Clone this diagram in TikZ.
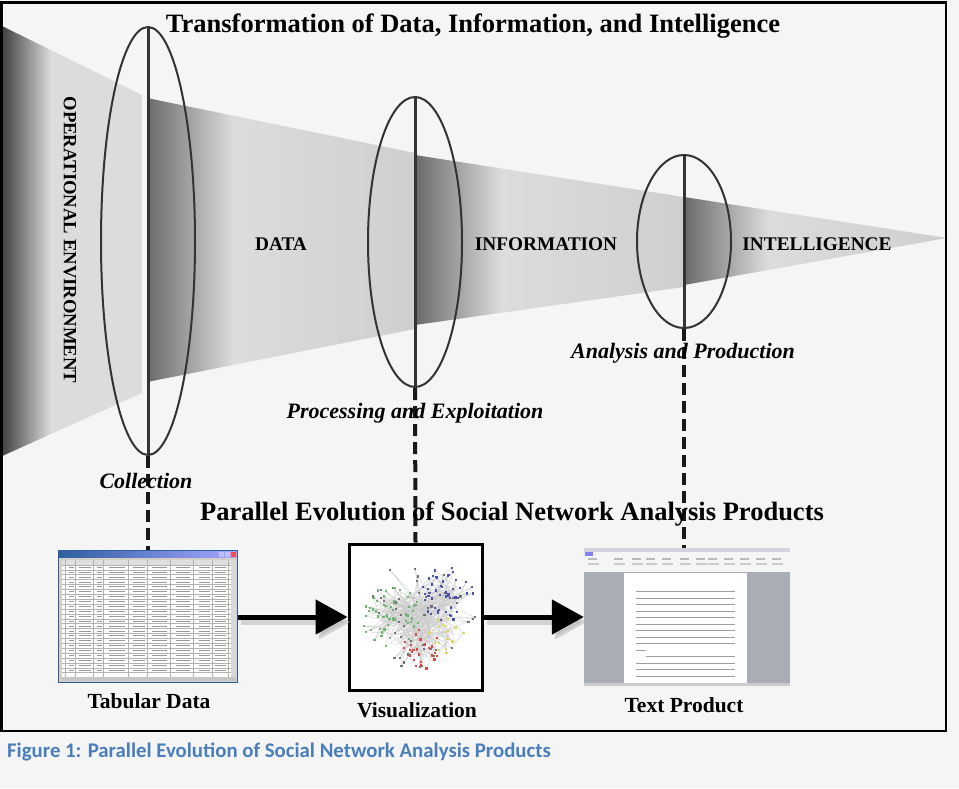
\documentclass[tikz,border=0pt]{standalone}
\usepackage{fontspec}
\setmainfont{Liberation Serif}
\newfontfamily\capfont{Carlito}
\usetikzlibrary{arrows.meta,shapes.geometric,positioning}
\definecolor{paper}{HTML}{F5F5F5}
\definecolor{wdark}{HTML}{3A3A3A}
\definecolor{sdark}{HTML}{6A6A6A}
\definecolor{slight}{HTML}{DCDCDC}
\definecolor{slight2}{HTML}{CFCFCF}
\definecolor{capblue}{HTML}{4A7EBB}
\definecolor{winblue}{HTML}{2D5F9E}
\definecolor{wingray}{HTML}{D4D0C8}
\definecolor{wordgray}{HTML}{A9AEB6}
\definecolor{netgreen}{HTML}{6FB56F}
\definecolor{netblue}{HTML}{4A55A8}
\definecolor{netred}{HTML}{E04848}
\definecolor{netyellow}{HTML}{DDD85A}
\definecolor{netgray}{HTML}{707478}
\pgfdeclarehorizontalshading{opfade}{100bp}{color(0bp)=(wdark); color(25bp)=(wdark); color(43bp)=(slight); color(100bp)=(slight)}
\pgfdeclarehorizontalshading{stagefade}{100bp}{color(0bp)=(sdark); color(25bp)=(sdark); color(41bp)=(slight); color(75bp)=(slight2); color(100bp)=(slight2)}

\begin{document}
\begin{tikzpicture}[x=1pt,y=-1pt,
    every node/.style={inner sep=0pt},
    phase/.style={ellipse, draw=black!80, line width=2pt, minimum width=94pt},
    stage/.style={font=\bfseries\fontsize{19.3}{21}\selectfont},
    steplbl/.style={font=\bfseries\itshape\fontsize{22}{24}\selectfont, anchor=base},
    head/.style={font=\bfseries\fontsize{26.5}{28}\selectfont, anchor=base},
    prod/.style={font=\bfseries\fontsize{21.5}{23}\selectfont, anchor=base},
    feed/.style={black!90, line width=4pt, dash pattern=on 12pt off 6pt},
    flow/.style={line width=5pt, -{Triangle[length=32pt,width=34pt]}},
    flowshade/.style={flow, black!30, opacity=.5}]
    \useasboundingbox (0,0) rectangle (959,788);
    \fill[paper] (0,0) rectangle (959,788);

    % funnel
    \shade[shading=opfade] (0,25) -- (142,95) -- (142,393) -- (0,457) -- cycle;
    \shade[shading=stagefade] (147,98) -- (415,153) -- (415,329) -- (147,382) -- cycle;
    \shade[shading=stagefade] (415,155) -- (684,197) -- (684,287) -- (415,325) -- cycle;
    \shade[shading=stagefade] (684,197) -- (947,238) -- (684,285) -- cycle;

    % the three steps
    \node[phase, minimum height=428pt] (C) at (148,241) {};
    \node[phase, minimum height=290pt] (P) at (415,242) {};
    \node[phase, minimum height=173pt] (A) at (684,241.5) {};
    \foreach \e in {C,P,A} {
      \draw[black!80, line width=3pt] (\e.north) -- (\e.south);
    }

    % products
    \node[minimum width=179pt, minimum height=132pt] (T) at (148.5,617) {};
    \node[draw, fill=white, line width=3pt, minimum width=133pt, minimum height=146pt] (V) at (415.5,617) {};
    \node[minimum width=206pt, minimum height=138pt] (W) at (687,617) {};

    \draw[feed] (C.south) -- (C.south |- T.north);
    \draw[feed] (P.south) -- (V.north);
    \draw[feed] (A.south) -- (A.south |- W.north);

    % tabular data window
    \begin{scope}[shift={(T.north west)}]
      \fill[wingray] (0,0) rectangle (179,132);
      \shade[left color=winblue, right color=blue!35] (0,0) rectangle (179,7);
      \foreach \b in {160,166} \fill[blue!25] (\b,1) rectangle ++(5,5);
      \fill[red!70] (172,1) rectangle ++(5,5);
      \fill[white] (3,9) rectangle (172,126);
      \fill[gray!25] (3,9) rectangle (172,14);
      \foreach \r in {0,...,22} \draw[gray!60, line width=.3pt] (3,14+4.9*\r) -- (172,14+4.9*\r);
      \foreach \c in {6,16,34,44,69,88,111,134,153,169} \draw[gray!60, line width=.3pt] (\c,9) -- (\c,126);
      \foreach \r in {0,...,21} {
        \foreach \a/\b in {10/15,20/32,38/43,50/66,74/86,93/108,117/131,140/151,156/167} {
          \draw[gray!80, line width=1pt] (\a,16.5+4.9*\r) -- (\b,16.5+4.9*\r);
        }
      }
      \fill[gray!30] (172,9) rectangle (177,126);
      \fill[gray!45] (3,126) rectangle (177,130);
      \draw[winblue, line width=.8pt] (0,0) rectangle (179,132);
    \end{scope}

    % network picture
    \begin{scope}[shift={(V.center)}]
      \pgfmathsetseed{11}
      \foreach \cx/\cy/\rr/\n/\c in {5/0/58/45/netgray, -24/0/30/55/netgreen, 33/-22/28/50/netblue, 6/33/20/26/netred, 30/18/22/18/netyellow} {
        \foreach \k in {1,...,\n} {
          \pgfmathsetmacro\ang{360*rnd}
          \pgfmathsetmacro\rad{\rr*sqrt(rnd)}
          \pgfmathsetmacro\px{\cx+\rad*cos(\ang)}
          \pgfmathsetmacro\py{\cy+\rad*sin(\ang)}
          \pgfmathsetmacro\qx{\cx+10*rand}
          \pgfmathsetmacro\qy{\cy+10*rand}
          \pgfmathsetmacro\sx{5+28*rand}
          \pgfmathsetmacro\sy{28*rand}
          \draw[gray!40, line width=.35pt] (\qx,\qy) -- (\px,\py) -- (\sx,\sy);
        }
      }
      \pgfmathsetseed{11}
      \foreach \cx/\cy/\rr/\n/\c in {5/0/58/45/netgray, -24/0/30/55/netgreen, 33/-22/28/50/netblue, 6/33/20/26/netred, 30/18/22/18/netyellow} {
        \foreach \k in {1,...,\n} {
          \pgfmathsetmacro\ang{360*rnd}
          \pgfmathsetmacro\rad{\rr*sqrt(rnd)}
          \pgfmathsetmacro\px{\cx+\rad*cos(\ang)}
          \pgfmathsetmacro\py{\cy+\rad*sin(\ang)}
          \pgfmathsetmacro\qx{\cx+10*rand}
          \pgfmathsetmacro\qy{\cy+10*rand}
          \pgfmathsetmacro\sx{5+28*rand}
          \pgfmathsetmacro\sy{28*rand}
          \fill[\c] (\px-1.1,\py-1.1) rectangle ++(2.2,2.2);
        }
      }
    \end{scope}

    % text product window
    \begin{scope}[shift={(W.north west)}]
      \fill[wordgray] (0,0) rectangle (206,138);
      \fill[blue!15!gray!30] (0,0) rectangle (206,4);
      \fill[gray!8] (0,4) rectangle (206,24);
      \fill[blue!50] (1,4) rectangle ++(8,4);
      \foreach \x in {4,30,48,62,78,96,112,124,140,156,172,188} {
        \fill[gray!55] (\x,10) rectangle ++(9,2);
        \fill[gray!40] (\x,15) rectangle ++(11,2);
      }
      \fill[white] (40,25) rectangle (163,136);
      \foreach \k in {0,...,8} \draw[gray!75, line width=.9pt] (52,44+6.5*\k) -- (151,44+6.5*\k);
      \draw[gray!75, line width=.9pt] (52,102.5) -- (62,102.5);
      \draw[gray!75, line width=.9pt] (62,109) -- (151,109);
      \foreach \k in {1,...,3} \draw[gray!75, line width=.9pt] (52,109+6.5*\k) -- (151,109+6.5*\k);
      \fill[gray!40] (0,135) rectangle (206,138);
    \end{scope}

    % flow between products
    \draw[flowshade] ([shift={(3,5)}]T.east) -- ([shift={(3,5)}]V.west);
    \draw[flowshade] ([shift={(3,5)}]V.east) -- ([shift={(3,5)}]W.west);
    \draw[flow] (T.east) -- (V.west);
    \draw[flow] (V.east) -- (W.west);

    % labels
    \node[head] (t1) at (473,32) {Transformation of Data, Information, and Intelligence};
    \node[head] (t2) at (512,520) {Parallel Evolution of Social Network Analysis Products};
    \node[stage, font=\bfseries\fontsize{18.7}{20}\selectfont, rotate=-90] (oe) at (70,240) {OPERATIONAL ENVIRONMENT};
    \node[stage, anchor=base] (d) at (281,250) {DATA};
    \node[stage, anchor=base] (i) at (546,250) {INFORMATION};
    \node[stage, anchor=base] (n) at (817,250) {INTELLIGENCE};
    \node[steplbl] (c1) at (146,488) {Collection};
    \node[steplbl] (p1) at (415,418) {Processing and Exploitation};
    \node[steplbl] (a1) at (683,358) {Analysis and Production};
    \node[prod] (tl) at (149,708) {Tabular Data};
    \node[prod] (vl) at (417,717) {Visualization};
    \node[prod] (wl) at (684,712) {Text Product};

    \draw[line width=2.5pt] (1.5,2.5) rectangle (946,731);
    \node[anchor=base west, text=capblue, font=\capfont\bfseries\fontsize{20.8}{23}\selectfont] (cap) at (7,757) {Figure 1: Parallel Evolution of Social Network Analysis Products};
\end{tikzpicture}
\end{document}
